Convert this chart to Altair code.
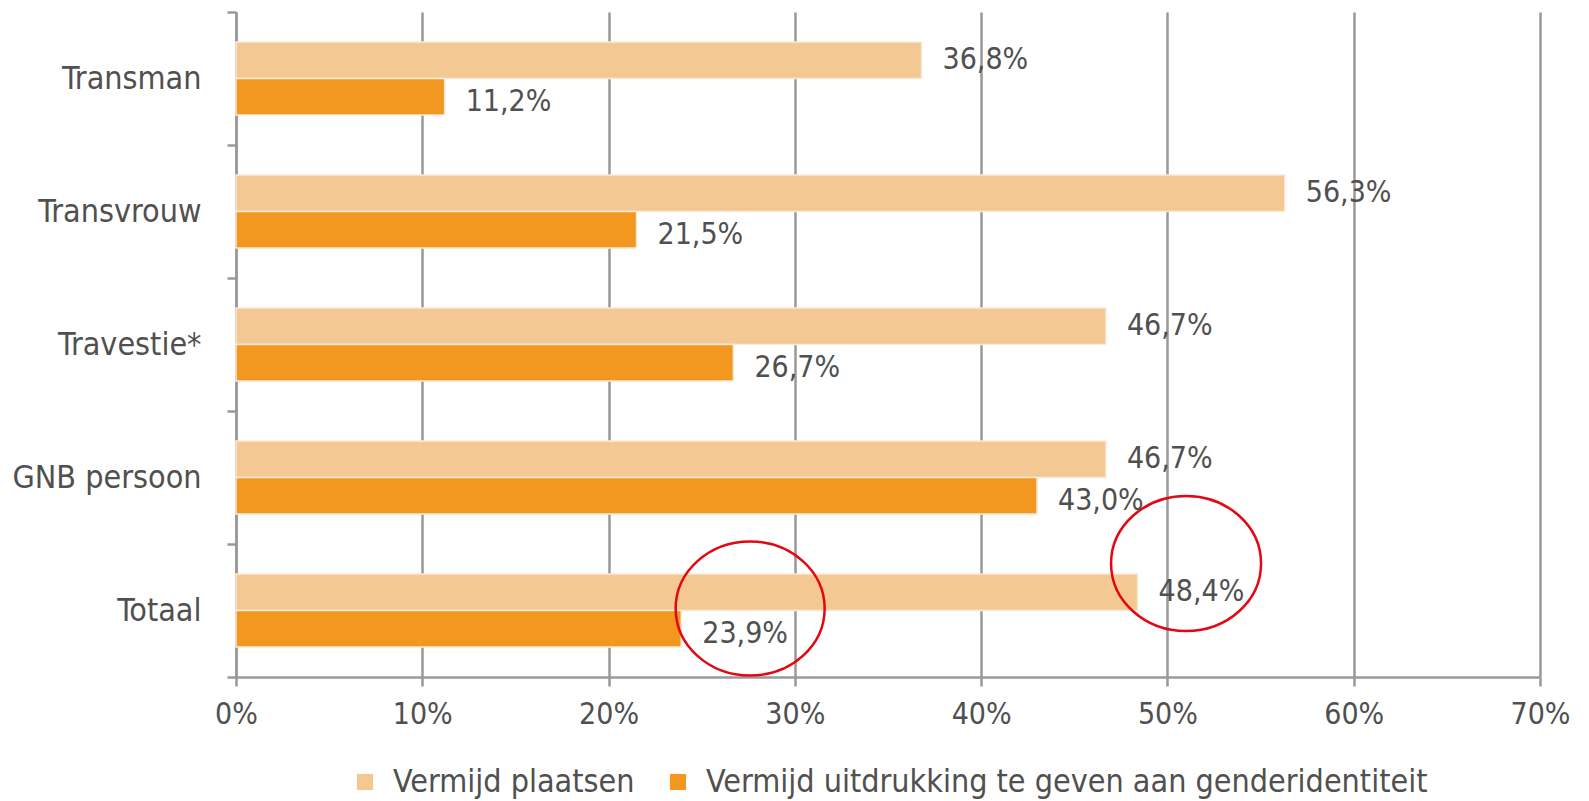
import altair as alt
import pandas as pd

categories = ["Transman", "Transvrouw", "Travestie*", "GNB persoon", "Totaal"]
series = ["Vermijd plaatsen", "Vermijd uitdrukking te geven aan genderidentiteit"]
plaatsen = [36.8, 56.3, 46.7, 46.7, 48.4]
uitdrukking = [11.2, 21.5, 26.7, 43.0, 23.9]
x_ticks = [0, 10, 20, 30, 40, 50, 60, 70]
colors = ["#F3C892", "#F29720"]

rows = []
for c, a, b in zip(categories, plaatsen, uitdrukking):
    rows.append({"cat": c, "serie": series[0], "v": a})
    rows.append({"cat": c, "serie": series[1], "v": b})
df = pd.DataFrame(rows)
df["label"] = df["v"].map(lambda v: f"{v:.1f}".replace(".", ",") + "%")

FONT = "DejaVu Sans Condensed, DejaVu Sans, sans-serif"
FS = 30
FS_BIG = 32
TXT = "#505050"
GRID = "#999999"

y_enc = alt.Y("cat:N", sort=categories,
              scale=alt.Scale(paddingInner=0, paddingOuter=0),
              axis=alt.Axis(title=None, tickBand="extent", tickSize=9, tickWidth=2.5,
                            tickColor=GRID, domainColor=GRID, domainWidth=2.5,
                            labelFont=FONT, labelFontSize=FS_BIG, labelColor=TXT,
                            labelPadding=26, grid=False, labelLimit=0))
yoff = alt.YOffset("serie:N", sort=series,
                   scale=alt.Scale(paddingInner=0, paddingOuter=0.82))
x_enc = alt.X("v:Q", scale=alt.Scale(domain=[0, 70], nice=False),
              axis=alt.Axis(title=None, values=x_ticks, labelExpr="datum.value + '%'",
                            grid=True, gridColor=GRID, gridWidth=2.5,
                            tickSize=9, tickWidth=2.5, tickColor=GRID,
                            domainColor=GRID, domainWidth=2.5,
                            labelFlush=False, labelBound=False, labelOverlap=False,
                            labelFont=FONT, labelFontSize=FS, labelColor=TXT,
                            labelPadding=13))

base = alt.Chart(df)
bars = base.mark_bar(stroke="#FBE9D8", strokeWidth=1.5).encode(
    y=y_enc, yOffset=yoff, x=x_enc,
    color=alt.Color("serie:N", sort=series,
                    scale=alt.Scale(domain=series, range=colors),
                    legend=alt.Legend(title=None, orient="none", direction="horizontal",
                                      legendX=113, legendY=754,
                                      symbolType="square", symbolSize=260,
                                      symbolStrokeWidth=0, columnPadding=27,
                                      labelFont=FONT, labelFontSize=FS_BIG, labelLimit=0,
                                      labelColor=TXT, labelOffset=12)),
)

def value_labels(serie, dy):
    return base.transform_filter(alt.datum.serie == serie).mark_text(
        align="left", baseline="middle", dx=21, dy=dy, font=FONT,
        fontSize=FS, color=TXT).encode(
        y=alt.Y("cat:N", sort=categories),
        yOffset=alt.YOffset("serie:N", sort=series),
        x="v:Q", text="label:N")

labels_a = value_labels(series[0], 0)
labels_b = value_labels(series[1], 5)

circ_df = pd.DataFrame({"cat": ["Totaal", "Totaal"], "v": [27.6, 51.0]})
ellipse = "M -1 0 A 1 0.9 0 1 1 1 0 A 1 0.9 0 1 1 -1 0 Z"
c1 = alt.Chart(circ_df.iloc[[0]]).mark_point(shape=ellipse, size=149 * 149, filled=False,
                                           stroke="#E30613", strokeWidth=2.5,
                                           opacity=1, yOffset=-2).encode(
    y=alt.Y("cat:N", sort=categories), x="v:Q")
c2 = alt.Chart(circ_df.iloc[[1]]).mark_point(shape=ellipse, size=150 * 150, filled=False,
                                           stroke="#E30613", strokeWidth=2.5,
                                           opacity=1, yOffset=-47).encode(
    y=alt.Y("cat:N", sort=categories), x="v:Q")

chart = alt.layer(bars, labels_a, labels_b, c1, c2).properties(
    width=1304, height=665,
    autosize=alt.AutoSizeParams(type="none"),
    padding={"left": 236, "top": 12, "right": 49, "bottom": 124},
    background="white",
).configure_view(stroke=None)

chart.save("out.html", embed_options={"renderer": "svg", "actions": False})
